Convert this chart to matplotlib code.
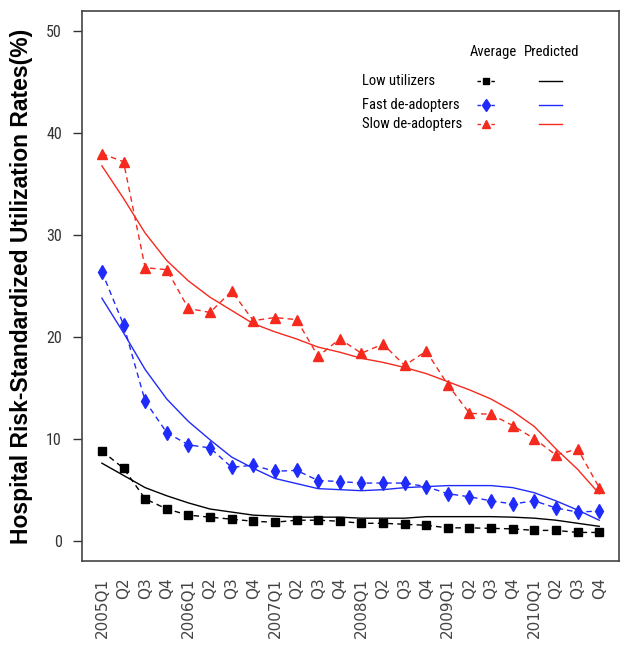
import numpy as np
import matplotlib.pyplot as plt
from matplotlib.lines import Line2D
from matplotlib import font_manager

# quarters 2005Q1 .. 2010Q4
quarters = ['2005Q1', 'Q2', 'Q3', 'Q4', '2006Q1', 'Q2', 'Q3', 'Q4',
            '2007Q1', 'Q2', 'Q3', 'Q4', '2008Q1', 'Q2', 'Q3', 'Q4',
            '2009Q1', 'Q2', 'Q3', 'Q4', '2010Q1', 'Q2', 'Q3', 'Q4']

low_avg = [8.8, 7.1, 4.1, 3.1, 2.5, 2.3, 2.1, 1.9, 1.8, 2.0, 2.0, 1.9,
           1.7, 1.7, 1.6, 1.5, 1.25, 1.25, 1.2, 1.15, 1.0, 1.0, 0.8, 0.8]
low_pred = [7.6, 6.4, 5.2, 4.4, 3.7, 3.1, 2.8, 2.5, 2.4, 2.3, 2.3, 2.3,
            2.2, 2.2, 2.2, 2.35, 2.35, 2.35, 2.35, 2.3, 2.2, 2.0, 1.7, 1.4]

fast_avg = [26.4, 21.2, 13.7, 10.6, 9.4, 9.1, 7.2, 7.4, 6.8, 6.9, 5.9, 5.8,
            5.65, 5.65, 5.65, 5.3, 4.6, 4.3, 3.9, 3.6, 3.9, 3.2, 2.8, 2.9]
fast_pred = [23.8, 20.4, 16.8, 13.9, 11.7, 9.9, 8.2, 7.1, 6.1, 5.6, 5.1, 5.0,
             4.9, 5.0, 5.2, 5.3, 5.4, 5.4, 5.4, 5.2, 4.7, 3.9, 3.0, 2.0]

slow_avg = [38.0, 37.2, 26.8, 26.6, 22.8, 22.4, 24.5, 21.6, 21.9, 21.7, 18.1, 19.8,
            18.4, 19.3, 17.2, 18.6, 15.3, 12.5, 12.4, 11.3, 10.0, 8.4, 9.0, 5.2]
slow_pred = [36.8, 33.6, 30.2, 27.5, 25.5, 23.9, 22.6, 21.3, 20.5, 19.8, 19.0, 18.5,
             17.9, 17.5, 17.0, 16.4, 15.6, 14.8, 13.9, 12.7, 11.2, 9.0, 7.0, 4.6]

groups = ['Low utilizers', 'Fast de-adopters', 'Slow de-adopters']
colors = ['black', '#1f2bfa', '#f52a1e']
markers = ['s', 'd', '^']
msizes = [5.5, 7.5, 7]

# pick a narrow face if there is one, else plain Liberation Sans
installed = {f.name for f in font_manager.fontManager.ttflist}
narrow = 'Liberation Sans'
small = 9.5
for name in ['Liberation Sans Narrow', 'DejaVu Sans Condensed', 'Roboto Condensed']:
    if name in installed:
        narrow = name
        small = 10.5
        break

fig = plt.figure(figsize=(6.26, 6.5), dpi=100)
ax = fig.add_axes([0.131, 0.137, 0.858, 0.846])

x = np.arange(len(quarters))
avgs = [low_avg, fast_avg, slow_avg]
preds = [low_pred, fast_pred, slow_pred]
for a, p, c, m, ms in zip(avgs, preds, colors, markers, msizes):
    ax.plot(x, a, color=c, lw=1, dashes=(4, 3), marker=m, ms=ms)
    ax.plot(x, p, color=c, lw=1)

ax.set_xlim(-0.92, 23.92)
ax.set_ylim(-2, 52)
ax.set_yticks([0, 10, 20, 30, 40, 50])
ax.set_yticklabels(['0', '10', '20', '30', '40', '50'], family=narrow,
                   fontsize=small + 1, color='#333333')
ax.set_xticks(x)
ax.set_xticklabels(quarters, rotation=90, fontsize=11, color='#444444', va='top')
ax.tick_params(axis='x', length=0, pad=12)
ax.tick_params(axis='y', length=6.5, width=1, pad=8, color='#333333')
for s in ax.spines.values():
    s.set_color('#444444')
    s.set_linewidth(1.2)

fig.text(0.035, 0.56, 'Hospital Risk-Standardized Utilization Rates(%)',
         rotation=90, ha='center', va='center', fontsize=16.5,
         fontweight='bold', family='Liberation Sans')

# legend drawn by hand: names on the left, two sample columns
ax.text(0.765, 0.926, 'Average', transform=ax.transAxes, ha='center', va='center',
        family=narrow, fontsize=small)
ax.text(0.875, 0.926, 'Predicted', transform=ax.transAxes, ha='center', va='center',
        family=narrow, fontsize=small)
rows = [0.873, 0.830, 0.794]
for g, c, m, ms, yy in zip(groups, colors, markers, msizes, rows):
    ax.text(0.521, yy, g, transform=ax.transAxes, ha='left', va='center',
            family=narrow, fontsize=small)
    ax.add_line(Line2D([0.736, 0.771], [yy, yy], transform=ax.transAxes,
                       color=c, lw=1, dashes=(2.5, 2.5)))
    ax.add_line(Line2D([0.752], [yy], transform=ax.transAxes, color=c,
                       marker=m, ms=ms * 0.85, lw=0))
    ax.add_line(Line2D([0.851, 0.894], [yy, yy], transform=ax.transAxes,
                       color=c, lw=1))

fig.savefig('out.png', dpi=100)
